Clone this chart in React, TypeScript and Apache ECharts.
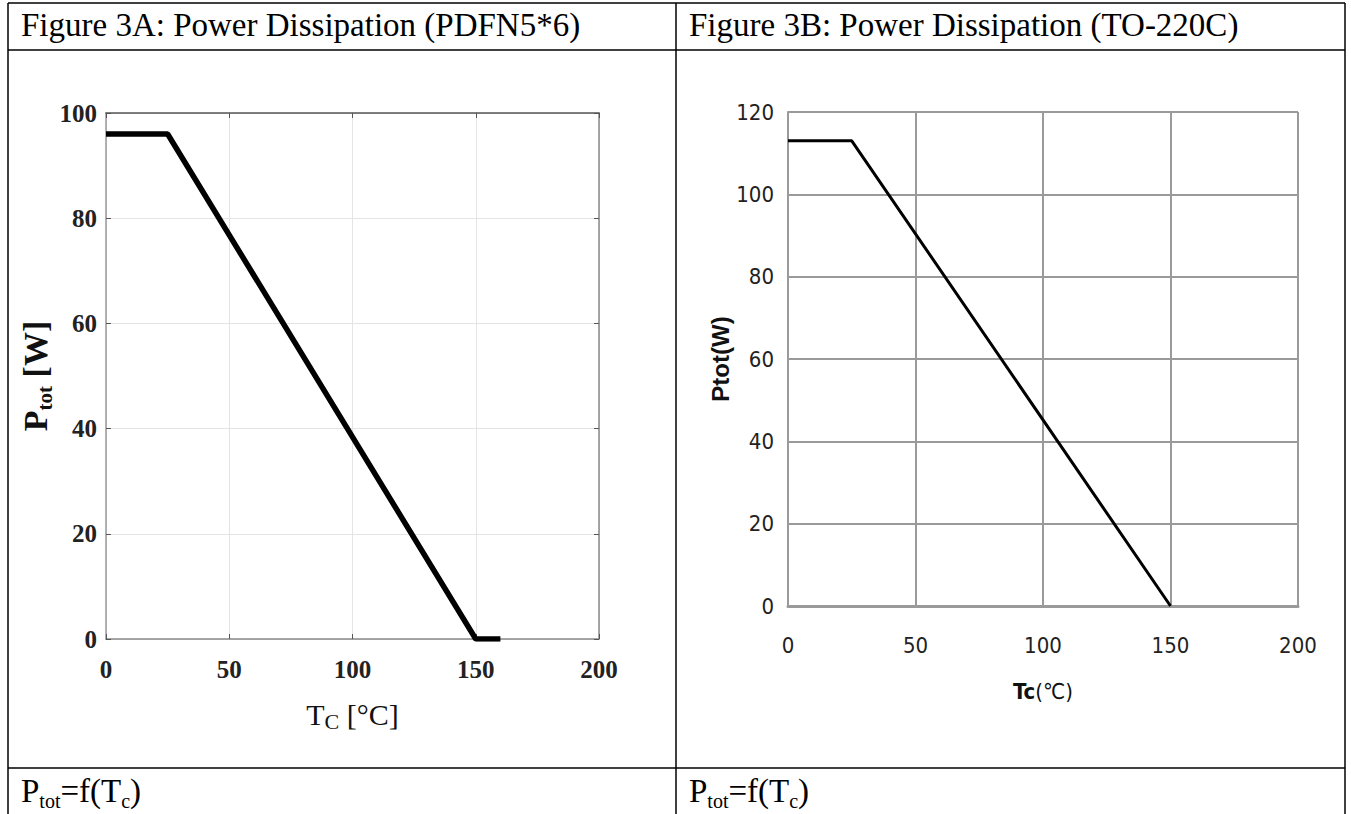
import React, { useEffect, useRef } from 'react';
import * as echarts from 'echarts';

// ---- data ----
const titleA = 'Figure 3A: Power Dissipation (PDFN5*6)';
const titleB = 'Figure 3B: Power Dissipation (TO-220C)';
const tempMin = 0;
const tempMax = 200;
const tempStep = 50;
const powerMaxA = 100;
const powerStepA = 20;
const powerMaxB = 120;
const powerStepB = 20;
// Figure 3A curve (Tc in °C, Ptot in W)
const curveA_Tc = [0, 25, 150, 160];
const curveA_P = [96, 96, 0, 0];
// Figure 3B curve
const curveB_Tc = [0, 25, 150];
const curveB_P = [113, 113, 0];

const SERIF = "'Liberation Serif', 'Times New Roman', serif";
const NARROW = "'Liberation Sans Narrow', 'DejaVu Sans Condensed', 'Liberation Sans', sans-serif";
const SANS = "'Liberation Sans', 'DejaVu Sans', sans-serif";

export default function App() {
  const ref = useRef<HTMLDivElement>(null);

  useEffect(() => {
    if (!ref.current) return;
    const chart = echarts.init(ref.current, undefined, { renderer: 'svg' });

    const dataA = curveA_Tc.map((t, i) => [t, curveA_P[i]]);
    const dataB = curveB_Tc.map((t, i) => [t, curveB_P[i]]);

    const L = 8, R = 1345, T = 3, HL = 50, CL = 768, MID = 676, B = 814;
    const tableLine = (x1: number, y1: number, x2: number, y2: number) => ({
      type: 'line',
      shape: { x1, y1, x2, y2 },
      style: { stroke: '#000', lineWidth: 1.5 },
      silent: true,
    });

    const capRich = {
      a: { fontFamily: SERIF, fontSize: 33, lineHeight: 40, color: '#000' },
      s: { fontFamily: SERIF, fontSize: 20, lineHeight: 28, verticalAlign: 'bottom', color: '#000' },
    };
    const captionText = '{a|P}{s|tot}{a|=f(T}{s|c}{a|)}';

    const option: any = {
      animation: false,
      backgroundColor: '#fff',
      graphic: [
        tableLine(L, T, R, T),
        tableLine(L, HL, R, HL),
        tableLine(L, CL, R, CL),
        tableLine(L, T, L, B),
        tableLine(MID, T, MID, B),
        tableLine(R, T, R, B),
        {
          type: 'text', x: 21, y: 25,
          style: { text: titleA, font: `33px ${SERIF}`, fill: '#000', verticalAlign: 'middle' },
        },
        {
          type: 'text', x: 689, y: 25,
          style: { text: titleB, font: `33px ${SERIF}`, fill: '#000', verticalAlign: 'middle' },
        },
        {
          type: 'text', x: 21, y: 791,
          style: { text: captionText, rich: capRich, verticalAlign: 'middle' },
        },
        {
          type: 'text', x: 689, y: 791,
          style: { text: captionText, rich: capRich, verticalAlign: 'middle' },
        },
      ],
      grid: [
        { left: 106, top: 113, width: 493, height: 526, show: false },
        { left: 788, top: 112, width: 510, height: 494, show: false },
      ],
      xAxis: [
        {
          type: 'value', gridIndex: 0, min: tempMin, max: tempMax, interval: tempStep,
          position: 'bottom',
          axisLine: { show: true, onZero: false, lineStyle: { color: '#8a8a8a', width: 1.5 } },
          axisTick: { show: true, inside: true, length: 5, lineStyle: { color: '#555' } },
          splitLine: { show: true, lineStyle: { color: '#e4e4e4', width: 1 } },
          axisLabel: { fontFamily: SERIF, fontWeight: 'bold', fontSize: 25, color: '#222', margin: 18 },
          name: '{a|T}{s|C}{a| [°C]}',
          nameLocation: 'middle',
          nameGap: 57,
          nameTextStyle: {
            rich: {
              a: { fontFamily: SERIF, fontSize: 30, lineHeight: 36, color: '#111' },
              s: { fontFamily: SERIF, fontSize: 22, lineHeight: 12, verticalAlign: 'bottom', color: '#111' },
            },
          },
        },
        {
          type: 'value', gridIndex: 0, min: tempMin, max: tempMax, interval: tempStep,
          position: 'top',
          axisLine: { show: true, onZero: false, lineStyle: { color: '#555', width: 1.5 } },
          axisTick: { show: true, inside: true, length: 5, lineStyle: { color: '#555' } },
          splitLine: { show: false },
          axisLabel: { show: false },
        },
        {
          type: 'value', gridIndex: 1, min: tempMin, max: tempMax, interval: tempStep,
          position: 'bottom',
          axisLine: { show: true, onZero: false, lineStyle: { color: '#9a9a9a', width: 3 } },
          axisTick: { show: false },
          splitLine: { show: true, lineStyle: { color: '#9a9a9a', width: 2 } },
          axisLabel: { fontFamily: NARROW, fontSize: 22, color: '#222', margin: 28 },
          name: '{b|Tc}{n|(℃)}',
          nameLocation: 'middle',
          nameGap: 74,
          nameTextStyle: {
            rich: {
              b: { fontFamily: NARROW, fontWeight: 'bold', fontSize: 22, color: '#111' },
              n: { fontFamily: NARROW, fontSize: 22, color: '#111' },
            },
          },
        },
      ],
      yAxis: [
        {
          type: 'value', gridIndex: 0, min: 0, max: powerMaxA, interval: powerStepA,
          position: 'left',
          axisLine: { show: true, onZero: false, lineStyle: { color: '#9a9a9a', width: 1.5 } },
          axisTick: { show: true, inside: true, length: 5, lineStyle: { color: '#555' } },
          splitLine: { show: true, lineStyle: { color: '#e4e4e4', width: 1 } },
          axisLabel: { fontFamily: SERIF, fontWeight: 'bold', fontSize: 25, color: '#222', margin: 9 },
          name: '{a|P}{s|tot}{a| [W]}',
          nameLocation: 'middle',
          nameRotate: 90,
          nameGap: 48,
          nameTextStyle: {
            rich: {
              a: { fontFamily: SERIF, fontWeight: 'bold', fontSize: 34, lineHeight: 40, color: '#111' },
              s: { fontFamily: SERIF, fontWeight: 'bold', fontSize: 21, lineHeight: 22, verticalAlign: 'bottom', color: '#111' },
            },
          },
        },
        {
          type: 'value', gridIndex: 0, min: 0, max: powerMaxA, interval: powerStepA,
          position: 'right',
          axisLine: { show: true, onZero: false, lineStyle: { color: '#8a8a8a', width: 1.5 } },
          axisTick: { show: true, inside: true, length: 5, lineStyle: { color: '#555' } },
          splitLine: { show: false },
          axisLabel: { show: false },
        },
        {
          type: 'value', gridIndex: 1, min: 0, max: powerMaxB, interval: powerStepB,
          position: 'left',
          axisLine: { show: true, onZero: false, lineStyle: { color: '#9a9a9a', width: 2 } },
          axisTick: { show: false },
          splitLine: { show: true, lineStyle: { color: '#9a9a9a', width: 2 } },
          axisLabel: { fontFamily: NARROW, fontSize: 22, color: '#222', margin: 14 },
          name: 'Ptot(W)',
          nameLocation: 'middle',
          nameRotate: 90,
          nameGap: 54,
          nameTextStyle: { fontFamily: SANS, fontWeight: 'bold', fontSize: 24, color: '#111' },
        },
      ],
      series: [
        {
          type: 'line', xAxisIndex: 0, yAxisIndex: 0, data: dataA,
          symbol: 'none', lineStyle: { color: '#000', width: 5.5 }, silent: true,
        },
        {
          type: 'line', xAxisIndex: 2, yAxisIndex: 2, data: dataB,
          symbol: 'none', lineStyle: { color: '#000', width: 3 }, silent: true,
        },
      ],
    };

    chart.setOption(option);
    return () => chart.dispose();
  }, []);

  return (
    <div
      ref={ref}
      style={{ position: 'fixed', left: 0, top: 0, width: 1351, height: 814, background: '#fff' }}
    />
  );
}
